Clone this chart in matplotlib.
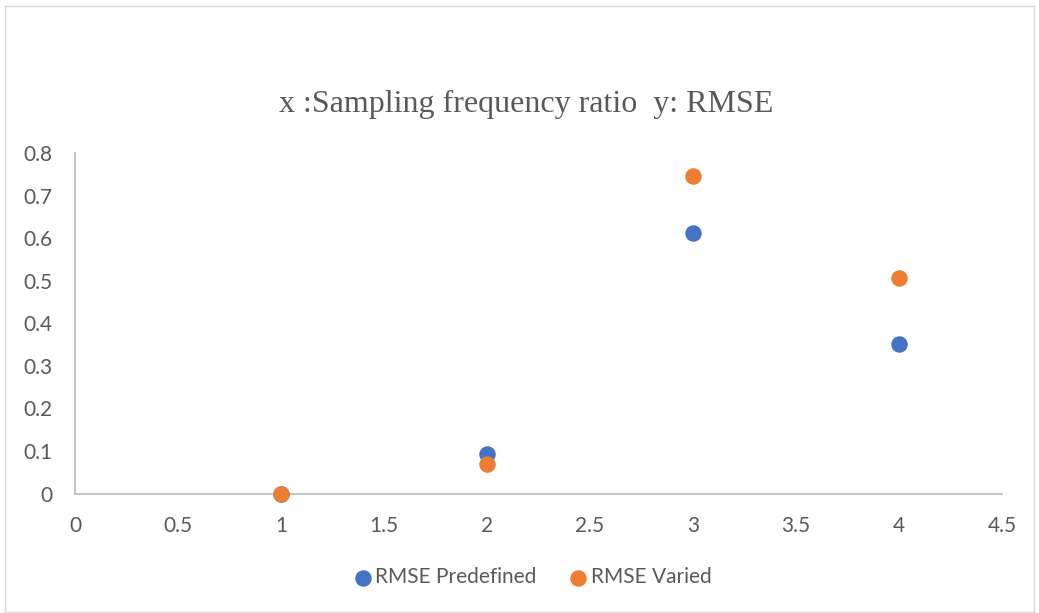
import matplotlib.pyplot as plt
from matplotlib.patches import Rectangle

# values
ratio = [1, 2, 3, 4]
rmse_predefined = [0.0, 0.092, 0.613, 0.352]
rmse_varied = [0.0, 0.070, 0.746, 0.506]
x_ticks = [0, 0.5, 1, 1.5, 2, 2.5, 3, 3.5, 4, 4.5]
y_ticks = [0, 0.1, 0.2, 0.3, 0.4, 0.5, 0.6, 0.7, 0.8]

BLUE = '#4472C4'
ORANGE = '#ED7D31'
GREY_TXT = '#595959'
GREY_LINE = '#BFBFBF'

fig = plt.figure(figsize=(10.39, 6.13), dpi=100)
ax = fig.add_axes([75 / 1039, 1 - 493.5 / 613, 927 / 1039, 340.5 / 613])

ax.scatter(ratio, rmse_predefined, s=118, color=BLUE, label='RMSE Predefined', zorder=3, clip_on=False)
ax.scatter(ratio, rmse_varied, s=118, color=ORANGE, label='RMSE Varied', zorder=4, clip_on=False)

ax.set_xlim(0, 4.5)
ax.set_ylim(0, 0.8)
ax.set_xticks(x_ticks)
ax.set_xticklabels([f'{v:g}' for v in x_ticks])
ax.set_yticks(y_ticks)
ax.set_yticklabels([f'{v:g}' for v in y_ticks])
ax.tick_params(length=0, labelsize=15, colors=GREY_TXT)
ax.tick_params(axis='x', pad=16)
ax.tick_params(axis='y', pad=16)
for lbl in ax.get_xticklabels() + ax.get_yticklabels():
    lbl.set_family('Lato')
for side in ('top', 'right'):
    ax.spines[side].set_visible(False)
for side in ('left', 'bottom'):
    ax.spines[side].set_color(GREY_LINE)
    ax.spines[side].set_linewidth(1.3)

fig.text(526.5 / 1039, 1 - 104 / 613, 'x :Sampling frequency ratio  y: RMSE', ha='center', va='center',
         fontsize=23, family='Liberation Serif', color=GREY_TXT)

leg = fig.legend(loc='center', bbox_to_anchor=(533 / 1039, 1 - 577 / 613), ncol=2, frameon=False,
                 handlelength=0.8, handletextpad=0.2, columnspacing=1.6, markerscale=1.0,
                 prop={'family': 'Lato', 'size': 15})
for t in leg.get_texts():
    t.set_color(GREY_TXT)

fig.patches.append(Rectangle((5 / 1039, 0.002), 1 - 10 / 1039, 1 - 7 / 613, transform=fig.transFigure,
                             fill=False, edgecolor='#D9D9D9', linewidth=1))

fig.savefig('out.png', dpi=100)
